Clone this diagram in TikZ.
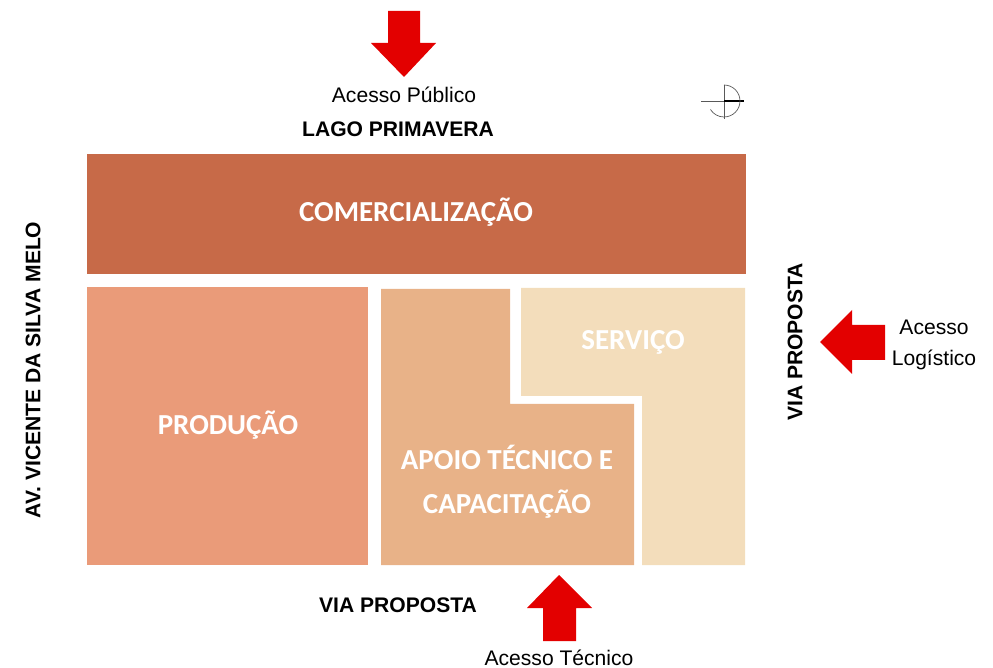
\documentclass[tikz,border=0pt]{standalone}
\usepackage{fontspec}
\setmainfont{Liberation Sans}
\newfontfamily\zonefont{Carlito}
\definecolor{comcolor}{HTML}{C76A48}
\definecolor{prodcolor}{HTML}{EA9B79}
\definecolor{apoiocolor}{HTML}{E8B288}
\definecolor{servcolor}{HTML}{F3DDBB}
\definecolor{accessred}{HTML}{E30000}
\tikzset{
	zone/.style={font=\zonefont\bfseries\fontsize{16.5}{25}\selectfont,text=white,align=center,inner sep=0},
	street/.style={font=\bfseries\fontsize{12}{14}\selectfont,inner sep=0},
	access/.style={font=\fontsize{12}{17.6}\selectfont,align=center,inner sep=0},
	redarrow/.style={fill=accessred},
	compass/.style={draw=gray!70!black,line width=0.4pt}
}
\begin{document}
\begin{tikzpicture}[x=0.02cm,y=-0.02cm]
	\useasboundingbox (0,0) rectangle (993,668);
	\fill[comcolor] (87,154) rectangle (746,274);
	\fill[prodcolor] (87,287) rectangle (368,565);
	\fill[apoiocolor] (381,289) -- (510,289) -- (510,404) -- (634,404) -- (634,565) -- (381,565) -- cycle;
	\fill[servcolor] (521,288) -- (745,288) -- (745,565) -- (642,565) -- (642,396) -- (521,396) -- cycle;
	\node[zone] (com) at (416,212) {COMERCIALIZAÇÃO};
	\node[zone] (prod) at (228,425) {PRODUÇÃO};
	\node[zone] (apoio) at (507,482) {APOIO TÉCNICO E\\CAPACITAÇÃO};
	\node[zone] (serv) at (633,342) {SERVIÇO};
	\fill[redarrow] (388,11) -- (420,11) -- (420,43) -- (436,43) -- (404,77) -- (371,43) -- (388,43) -- cycle;
	\fill[redarrow] (543,641) -- (576,641) -- (576,608) -- (592,608) -- (559,575) -- (527,608) -- (543,608) -- cycle;
	\fill[redarrow] (885,325) -- (885,360) -- (852,360) -- (852,374) -- (820,342) -- (852,310) -- (852,325) -- cycle;
	\node[access] (publico) at (404,95) {Acesso Público};
	\node[access] (tecnico) at (559,658) {Acesso Técnico};
	\node[access] (logistico) at (934,345) {Acesso\\Logístico};
	\node[street] (lago) at (398,129) {LAGO PRIMAVERA};
	\node[street] (viasul) at (398,605) {VIA PROPOSTA};
	\node[street,rotate=90] (avenida) at (33,370) {AV. VICENTE DA SILVA MELO};
	\node[street,rotate=90] (vialeste) at (795,342) {VIA PROPOSTA};
	\coordinate (norte) at (724,101);
	\draw[compass] (701,101) -- (744,101);
	\draw[compass] (724,85) -- (724,119);
	\draw[compass,line width=1.2pt,draw=black] (norte) -- (744,101);
	\draw[compass] (724,85) arc[start angle=-90,end angle=148,radius=16];
\end{tikzpicture}
\end{document}
